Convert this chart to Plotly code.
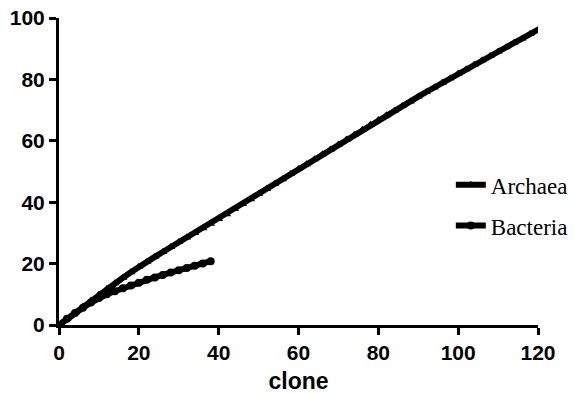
import plotly.graph_objects as go

# Archaea (long curve, triangles)
archaea_x = list(range(0, 121, 2))
archaea_y = [0, 2.0, 4.0, 6.0, 8.0, 9.9, 11.8, 13.6, 15.4, 17.2, 19.0,
             20.6, 22.2, 23.8, 25.4, 27.0, 28.5, 30.0, 31.5, 33.0, 34.5,
             36.1, 37.8, 39.4, 41.0, 42.7, 44.3, 45.9, 47.5, 49.2, 50.8,
             52.4, 54.0, 55.6, 57.2, 58.8, 60.4, 62.0, 63.6, 65.2, 66.8,
             68.3, 69.8, 71.3, 72.8, 74.4, 75.9, 77.4, 78.9, 80.4, 81.9,
             83.3, 84.8, 86.2, 87.6, 89.1, 90.5, 91.9, 93.3, 94.8, 96.2]

# Bacteria (short curve, circles)
bacteria_x = list(range(0, 39, 2))
bacteria_y = [0, 2.0, 3.9, 5.6, 7.3, 8.8, 10.0, 11.0, 12.0, 12.9, 13.8,
              14.7, 15.5, 16.3, 17.1, 17.8, 18.6, 19.3, 20.0, 20.8]

x_ticks = [0, 20, 40, 60, 80, 100, 120]
y_ticks = [0, 20, 40, 60, 80, 100]

fig = go.Figure()
fig.add_trace(go.Scatter(
    x=archaea_x, y=archaea_y, name="Archaea", mode="lines+markers",
    line=dict(color="black", width=6),
    marker=dict(symbol="triangle-up", size=8, color="black"),
    legendgroup="a"))
fig.add_trace(go.Scatter(
    x=bacteria_x, y=bacteria_y, name="Bacteria", mode="lines+markers",
    line=dict(color="black", width=6),
    marker=dict(symbol="circle", size=8, color="black"),
    legendgroup="b"))

axis_common = dict(
    showline=True, linecolor="black", linewidth=3,
    ticks="outside", ticklen=7, tickwidth=3, tickcolor="black",
    showgrid=False, zeroline=False, automargin=False,
    ticklabeloverflow="allow",
    tickfont=dict(family="Liberation Sans, Arial", size=21, color="black", weight="bold"),
)

# Figure is a little wider than the window so the legend never pushes the
# right margin; the extra strip on the right is simply off-screen.
fig.update_layout(
    width=590, height=394,
    margin=dict(l=59, r=52, t=18, b=69),
    paper_bgcolor="white", plot_bgcolor="white",
    xaxis=dict(range=[0, 120], tickvals=x_ticks,
               title=dict(text="<b>clone</b>", font=dict(family="Liberation Sans, Arial", size=23, color="black"), standoff=12),
               **axis_common),
    yaxis=dict(range=[0, 100], tickvals=y_ticks, **axis_common),
    legend=dict(x=0.818, y=0.39, xanchor="left", yanchor="middle",
                bgcolor="rgba(0,0,0,0)", tracegroupgap=8,
                font=dict(family="Liberation Serif, Times New Roman", size=23, color="black")),
)

fig.write_html(
    "out.html",
    config={"displayModeBar": False},
    post_script="document.body.style.margin='0';document.body.style.overflow='hidden';",
)
